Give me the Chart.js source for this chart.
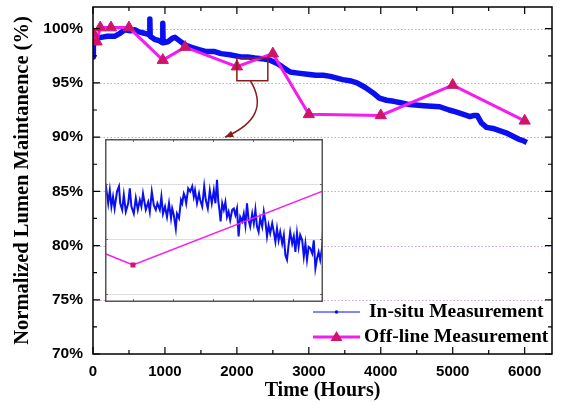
<!DOCTYPE html>
<html>
<head>
<meta charset="utf-8">
<script src="https://cdn.jsdelivr.net/npm/chart.js@4.4.0/dist/chart.umd.min.js"></script>
<style>
  html, body { margin: 0; padding: 0; background: #fff; }
  #wrap { position: relative; width: 562px; height: 405px; }
  #main { position: absolute; left: 0; top: 0; }
  #inset { position: absolute; left: 105px; top: 139px; }
</style>
</head>
<body>
<div id="wrap">
  <canvas id="main" width="562" height="405"></canvas>
  <canvas id="inset" width="218" height="163"></canvas>
</div>
<script>
// --- data ---
const insituHours = [0,5,20,60,110,200,300,380,440,520,580,640,700,760,785,790,795,860,920,965,970,975,1040,1100,1140,1200,1280,1360,1460,1560,1680,1780,1900,2055,2150,2250,2380,2460,2560,2650,2740,2850,2980,3100,3200,3300,3470,3570,3670,3780,3890,3980,4080,4180,4260,4400,4600,4820,4950,5055,5150,5240,5300,5340,5400,5470,5560,5650,5740,5830,5920,5970,6030];
const insituValues = [97.4,98.6,98.9,99.1,99.2,99.3,99.3,99.6,99.9,99.8,99.9,99.7,99.6,99.5,99.4,100.9,99.3,99.0,98.9,98.7,100.5,98.7,98.8,99.1,99.2,98.9,98.5,98.3,98.1,97.9,97.9,97.7,97.6,97.4,97.4,97.3,97.2,97.1,96.8,96.4,96.0,95.9,95.8,95.7,95.7,95.6,95.3,95.2,95.0,94.6,94.1,93.6,93.4,93.3,93.2,93.0,92.9,92.8,92.5,92.3,92.1,91.9,92.0,92.0,91.3,90.9,90.8,90.6,90.4,90.1,89.8,89.7,89.5];

const offlineHours = [0,50,100,250,500,970,1280,2000,2500,3000,4000,5000,6000];
const offlineValues = [99.6,98.8,100.1,100.1,100.1,97.1,98.3,96.5,97.7,92.1,92.0,94.8,91.5];

// zoomed in-situ record shown in the inset (about 1930-2475 h)
const insetHours = [1930,1933,1938,1942,1946,1950,1954,1960,1965,1968,1973,1977,1982,1988,1992,1996,2002,2007,2012,2017,2021,2025,2032,2038,2042,2047,2052,2057,2061,2067,2071,2075,2080,2085,2090,2095,2098,2102,2107,2110,2115,2120,2123,2127,2130,2133,2138,2143,2148,2152,2155,2160,2165,2168,2173,2178,2182,2187,2192,2197,2202,2206,2210,2213,2216,2219,2223,2227,2231,2235,2239,2243,2248,2252,2256,2260,2264,2268,2273,2277,2281,2285,2289,2293,2298,2302,2306,2310,2314,2318,2323,2327,2331,2335,2339,2343,2348,2352,2356,2360,2364,2368,2373,2377,2381,2385,2389,2393,2398,2402,2406,2410,2414,2418,2423,2427,2431,2435,2439,2443,2448,2452,2456,2460,2464,2468,2473,2475];
const insetValues = [97.60,97.68,97.45,97.65,97.40,97.55,97.37,97.63,97.71,97.45,97.35,97.58,97.32,97.45,97.68,97.40,97.29,97.53,97.35,97.50,97.40,97.60,97.35,97.47,97.32,97.63,97.42,97.35,97.45,97.35,97.55,97.29,97.40,97.24,97.45,97.22,97.37,97.27,97.06,97.29,97.22,97.50,97.45,97.60,97.55,97.45,97.68,97.63,97.71,97.55,97.65,97.45,97.60,97.50,97.40,97.71,97.50,97.37,97.65,97.45,97.65,97.45,97.81,97.50,97.35,97.17,97.45,97.35,97.47,97.24,97.32,97.19,97.35,97.37,97.27,97.37,96.94,97.24,97.17,97.29,97.11,97.45,97.19,97.09,97.29,97.14,97.35,97.09,97.01,97.22,97.09,97.32,97.17,96.94,97.11,96.99,97.14,97.01,96.86,97.06,96.88,97.01,96.83,96.96,96.65,96.58,96.81,97.01,96.83,96.94,96.70,96.99,96.78,96.96,96.88,96.63,96.83,96.58,96.78,96.76,96.68,96.88,96.45,96.60,96.70,96.58,96.78,97.04];

const xTickValues = [0,1000,2000,3000,4000,5000,6000];
const yTickValues = [70,75,80,85,90,95,100];
const insetGridValues = [96.05,96.90,97.75];
// region of the main plot blown up in the inset
const zoomBoxHours = [2000, 2430];
const zoomBoxValues = [95.2, 97.3];

const BLUE = '#0a0ff0';
const MAGENTA = '#f51cf0';
const MARKER = '#d0146c';
const GRID = '#c9a3dc';
const SANS = '"Liberation Sans", Arial, sans-serif';
const SERIF = '"Liberation Serif", "Times New Roman", serif';

function pairs(xs, ys) {
    return xs.map((x, i) => ({ x: x, y: ys[i] }));
}

// --- main chart extras: dotted grid, frame, inward ticks, zoom box, legend ---
const mainDecor = {
    id: 'mainDecor',
    beforeDatasetsDraw(chart) {
        const ctx = chart.ctx, ca = chart.chartArea, ys = chart.scales.y;
        ctx.save();
        ctx.strokeStyle = GRID;
        ctx.lineWidth = 1;
        ctx.setLineDash([1.5, 2]);
        yTickValues.forEach(v => {
            if (v <= ys.min) return;
            const py = Math.round(ys.getPixelForValue(v)) + 0.5;
            ctx.beginPath(); ctx.moveTo(ca.left, py); ctx.lineTo(ca.right, py); ctx.stroke();
        });
        ctx.restore();
    },
    afterDatasetsDraw(chart) {
        const ctx = chart.ctx, ca = chart.chartArea;
        const xs = chart.scales.x, ys = chart.scales.y;
        ctx.save();
        // frame
        ctx.strokeStyle = '#000';
        ctx.lineWidth = 1.5;
        ctx.strokeRect(ca.left, ca.top, ca.right - ca.left, ca.bottom - ca.top);
        // inward ticks, all four sides
        ctx.lineWidth = 1.2;
        for (let h = 0; h <= xs.max; h += 500) {
            const px = xs.getPixelForValue(h);
            const len = h % 1000 === 0 ? 7 : 4;
            ctx.beginPath();
            ctx.moveTo(px, ca.bottom); ctx.lineTo(px, ca.bottom - len);
            ctx.moveTo(px, ca.top); ctx.lineTo(px, ca.top + len);
            ctx.stroke();
        }
        for (let v = ys.min; v <= ys.max; v += 2.5) {
            const py = ys.getPixelForValue(v);
            const len = v % 5 === 0 ? 7 : 4;
            ctx.beginPath();
            ctx.moveTo(ca.left, py); ctx.lineTo(ca.left + len, py);
            ctx.moveTo(ca.right, py); ctx.lineTo(ca.right - len, py);
            ctx.stroke();
        }
        // zoom box and curved arrow to the inset
        const bx0 = xs.getPixelForValue(zoomBoxHours[0]);
        const bx1 = xs.getPixelForValue(zoomBoxHours[1]);
        const by0 = ys.getPixelForValue(zoomBoxValues[1]);
        const by1 = ys.getPixelForValue(zoomBoxValues[0]);
        ctx.strokeStyle = '#8a1c1c';
        ctx.lineWidth = 1.5;
        ctx.strokeRect(bx0, by0, bx1 - bx0, by1 - by0);
        const sx = (bx0 + bx1) / 2 - 2, sy = by1;
        const ex = bx0 - 12, ey = ys.getPixelForValue(90);
        const cx = sx + 22, cy = sy + 36;
        ctx.beginPath();
        ctx.moveTo(sx, sy);
        ctx.quadraticCurveTo(cx, cy, ex, ey);
        ctx.stroke();
        const ang = Math.atan2(ey - cy, ex - cx);
        ctx.fillStyle = '#8a1c1c';
        ctx.beginPath();
        ctx.moveTo(ex, ey);
        ctx.lineTo(ex - 9 * Math.cos(ang - 0.4), ey - 9 * Math.sin(ang - 0.4));
        ctx.lineTo(ex - 9 * Math.cos(ang + 0.4), ey - 9 * Math.sin(ang + 0.4));
        ctx.closePath();
        ctx.fill();
        // legend, bottom right inside the plot
        const lx0 = ca.right - 239, lx1 = ca.right - 192, lmid = (lx0 + lx1) / 2;
        const r1 = ca.bottom - 42, r2 = ca.bottom - 17;
        ctx.strokeStyle = BLUE; ctx.lineWidth = 1;
        ctx.beginPath(); ctx.moveTo(lx0, r1); ctx.lineTo(lx1, r1); ctx.stroke();
        ctx.fillStyle = BLUE;
        ctx.beginPath(); ctx.arc(lmid, r1, 1.8, 0, Math.PI * 2); ctx.fill();
        ctx.strokeStyle = MAGENTA; ctx.lineWidth = 3;
        ctx.beginPath(); ctx.moveTo(lx0, r2); ctx.lineTo(lx1, r2); ctx.stroke();
        ctx.fillStyle = MARKER;
        ctx.beginPath();
        ctx.moveTo(lmid, r2 - 6); ctx.lineTo(lmid + 6, r2 + 4); ctx.lineTo(lmid - 6, r2 + 4);
        ctx.closePath(); ctx.fill();
        ctx.fillStyle = '#000';
        ctx.font = 'bold 19.5px ' + SERIF;
        ctx.textBaseline = 'middle';
        ctx.textAlign = 'left';
        ctx.fillText('In-situ Measurement', lx1 + 9, r1);
        ctx.fillText('Off-line Measurement', lx1 + 4, r2);
        ctx.restore();
    }
};

new Chart(document.getElementById('main').getContext('2d'), {
    type: 'line',
    data: {
        datasets: [
            {
                label: 'Off-line Measurement',
                data: pairs(offlineHours, offlineValues),
                borderColor: MAGENTA, borderWidth: 3,
                pointStyle: 'triangle', pointRadius: 6.5,
                pointBackgroundColor: MARKER, pointBorderColor: MARKER, pointBorderWidth: 1,
                order: 0
            },
            {
                label: 'In-situ Measurement',
                data: pairs(insituHours, insituValues),
                borderColor: BLUE, borderWidth: 5.5, pointRadius: 0,
                borderJoinStyle: 'round',
                order: 1
            }
        ]
    },
    options: {
        responsive: false,
        animation: false,
        layout: { autoPadding: false, padding: { top: 7, right: 10, left: 0, bottom: 0 } },
        plugins: { legend: { display: false }, tooltip: { enabled: false } },
        scales: {
            x: {
                type: 'linear', min: 0, max: 6380,
                afterBuildTicks: s => { s.ticks = xTickValues.map(v => ({ value: v })); },
                afterFit: s => { s.height = 51; s.paddingLeft = 0; s.paddingRight = 0; },
                grid: { display: false, drawTicks: false },
                border: { display: false },
                ticks: { color: '#000', font: { family: SANS, size: 15, weight: 'bold' }, padding: 9, maxRotation: 0, callback: v => String(v) },
                title: { display: true, text: 'Time (Hours)', color: '#000', font: { family: SERIF, size: 20, weight: 'bold' }, padding: { top: 0, bottom: 2 } }
            },
            y: {
                min: 70, max: 102,
                afterBuildTicks: s => { s.ticks = yTickValues.map(v => ({ value: v })); },
                afterFit: s => { s.width = 93; s.paddingTop = 0; s.paddingBottom = 0; },
                grid: { display: false, drawTicks: false },
                border: { display: false },
                ticks: { color: '#000', font: { family: SANS, size: 15.5, weight: 'bold' }, padding: 10, callback: v => v + '%' },
                title: { display: true, text: 'Normalized Lumen Maintanence (%)', color: '#000', font: { family: SERIF, size: 20.5, weight: 'bold' }, padding: { top: 10, bottom: 0 } }
            }
        }
    },
    plugins: [mainDecor]
});

// --- inset: white panel, light grid, gray frame, small inward ticks ---
const insetDecor = {
    id: 'insetDecor',
    beforeDraw(chart) {
        const ctx = chart.ctx;
        ctx.save();
        ctx.fillStyle = '#fff';
        ctx.fillRect(0, 0, chart.width, chart.height);
        ctx.restore();
    },
    beforeDatasetsDraw(chart) {
        const ctx = chart.ctx, ca = chart.chartArea, ys = chart.scales.y;
        ctx.save();
        ctx.strokeStyle = '#dcdce6';
        ctx.lineWidth = 1;
        insetGridValues.forEach(v => {
            const py = Math.round(ys.getPixelForValue(v)) + 0.5;
            ctx.beginPath(); ctx.moveTo(ca.left, py); ctx.lineTo(ca.right, py); ctx.stroke();
        });
        ctx.restore();
    },
    afterDatasetsDraw(chart) {
        const ctx = chart.ctx, ca = chart.chartArea;
        const xs = chart.scales.x, ys = chart.scales.y;
        ctx.save();
        ctx.strokeStyle = '#6a6a6a';
        ctx.lineWidth = 1;
        for (let h = 2000; h < xs.max; h += 100) {
            const px = Math.round(xs.getPixelForValue(h)) + 0.5;
            ctx.beginPath();
            ctx.moveTo(px, ca.top); ctx.lineTo(px, ca.top + 3);
            ctx.moveTo(px, ca.bottom); ctx.lineTo(px, ca.bottom - 3);
            ctx.stroke();
        }
        insetGridValues.forEach(v => {
            const py = Math.round(ys.getPixelForValue(v)) + 0.5;
            ctx.beginPath();
            ctx.moveTo(ca.left, py); ctx.lineTo(ca.left + 3, py);
            ctx.moveTo(ca.right, py); ctx.lineTo(ca.right - 3, py);
            ctx.stroke();
        });
        ctx.strokeStyle = '#555';
        ctx.lineWidth = 1.5;
        ctx.strokeRect(ca.left + 0.75, ca.top + 0.75, ca.right - ca.left - 1.5, ca.bottom - ca.top - 1.5);
        ctx.restore();
    }
};

new Chart(document.getElementById('inset').getContext('2d'), {
    type: 'line',
    data: {
        datasets: [
            {
                data: pairs(offlineHours, offlineValues),
                borderColor: MAGENTA, borderWidth: 1.5,
                pointStyle: 'rect', pointRadius: 2.5,
                pointBackgroundColor: MARKER, pointBorderColor: MARKER,
                order: 0
            },
            {
                data: pairs(insetHours, insetValues),
                borderColor: BLUE, borderWidth: 2, pointRadius: 0,
                order: 1
            }
        ]
    },
    options: {
        responsive: false,
        animation: false,
        layout: { autoPadding: false, padding: 0 },
        plugins: { legend: { display: false }, tooltip: { enabled: false } },
        scales: {
            x: { type: 'linear', min: 1930, max: 2475, display: false },
            y: { min: 95.93, max: 98.44, display: false }
        }
    },
    plugins: [insetDecor]
});
</script>
</body>
</html>
